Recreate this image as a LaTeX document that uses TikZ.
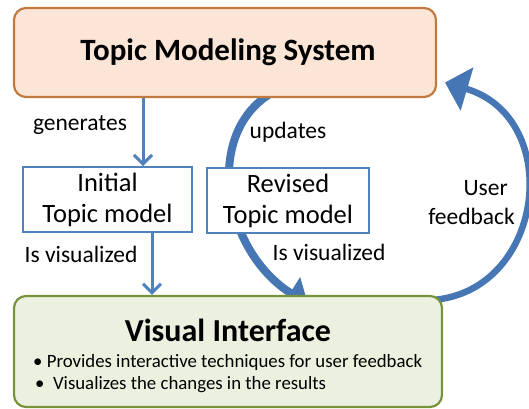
\documentclass[tikz,border=0pt]{standalone}
\usepackage{fontspec}
\setmainfont{Carlito}
\usetikzlibrary{arrows.meta,calc}
\definecolor{peachfill}{HTML}{FBE5D6}
\definecolor{peachdraw}{HTML}{C07A3E}
\definecolor{greenfill}{HTML}{EBF1DE}
\definecolor{greendraw}{HTML}{77933C}
\definecolor{boxblue}{HTML}{4F81BD}
\definecolor{arrowblue}{HTML}{4776B4}
\begin{document}
\begin{tikzpicture}[x=1pt,y=-1pt,
  topbox/.style={draw=peachdraw, fill=peachfill, line width=2.2pt, rounded corners=12pt, inner sep=0pt},
  vibox/.style={draw=greendraw, fill=greenfill, line width=2.2pt, rounded corners=12pt, inner sep=0pt},
  modelbox/.style={draw=boxblue, fill=white, line width=2pt, inner sep=0pt, align=center,
     font=\fontsize{26.5}{31}\selectfont},
  lbl/.style={inner sep=0pt, font=\fontsize{23.5}{29}\selectfont},
  thinarrow/.style={draw=boxblue, line width=3pt, -{Straight Barb[length=9pt,width=18pt,line width=3pt]}},
  bigarrow/.style={draw=arrowblue},
]
\useasboundingbox (0,0) rectangle (529,408);
% end points of the curved arrows (drawn first, so the boxes cover them)
\coordinate (updS) at (275,91);
\coordinate (updE) at (308,304);
\coordinate (fbS) at (432,300);
\coordinate (fbE) at (445,82.5);
\draw[bigarrow, line width=8pt, -{Triangle[length=21pt,width=36pt]}] (updS) .. controls (202,130) and (222,250) .. (updE);
\draw[bigarrow, line width=6.5pt, -{Triangle[length=23pt,width=44pt]}] (fbS) .. controls (545,292) and (565,118) .. (fbE);
% boxes
\node[topbox, minimum width=422pt, minimum height=89pt] (tms) at (225,52.5) {};
\node[inner sep=0pt, font=\fontsize{31}{34}\selectfont\bfseries] (tmst) at (228,52) {Topic Modeling System};
\node[modelbox, minimum width=169pt, minimum height=65pt] (init) at (107.5,199.5) {Initial\\Topic model};
\node[modelbox, minimum width=162pt, minimum height=65pt] (rev) at (288,200.5) {Revised\\Topic model};
\node[vibox, minimum width=428pt, minimum height=111pt] (vi) at (228,351.5) {};
\node[inner sep=0pt, font=\fontsize{32}{36}\selectfont\bfseries] (vit) at (228,330) {Visual Interface};
\node[inner sep=0pt, anchor=west, font=\fontsize{18.8}{22}\selectfont] (b1) at (33,362) {• Provides interactive techniques for user feedback};
\node[inner sep=0pt, anchor=west, font=\fontsize{18.8}{22}\selectfont] (b2) at (35,385) {•\ \ Visualizes the changes in the results};
% labels
\node[lbl] (gen) at (80,125) {generates};
\node[lbl] (isv1) at (81,254) {Is visualized};
\node[lbl] (upd) at (288,132) {updates};
\node[lbl, align=right, anchor=east] (uf) at (515,202.5) {User\rule{7pt}{0pt}\\feedback};
\node[lbl] (isv2) at (329,252) {Is visualized};
% straight arrows
\coordinate (a1) at (143,0);
\coordinate (a2) at (152,0);
\draw[thinarrow] (tms.south -| a1) -- (init.north -| a1);
\draw[thinarrow] (init.south -| a2) -- (vi.north -| a2);
\end{tikzpicture}
\end{document}
